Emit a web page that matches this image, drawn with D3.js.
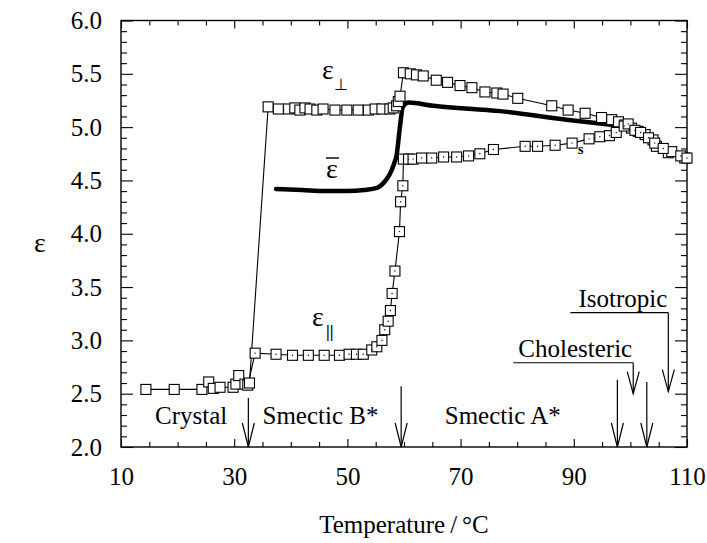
<!DOCTYPE html>
<html>
<head>
<meta charset="utf-8">
<script src="https://cdn.jsdelivr.net/npm/d3@7"></script>
<style>
  body { margin: 0; background: #fff; }
  svg { display: block; font-family: "Liberation Serif", "Times New Roman", serif; }
  .axis path { display: none; }
  .axis line { stroke: #000; stroke-width: 1.1; }
  .axis text { font-size: 25px; fill: #000; font-family: "Liberation Serif", serif; }
</style>
</head>
<body>
<svg width="707" height="543"></svg>
<script>
// crystal phase, shared start of both curves
const crystal = [[14.4,2.54],[19.4,2.54],[24.3,2.54],[25.5,2.61],[26.3,2.55],[27.5,2.56],[29.8,2.56],[30.3,2.59],[30.8,2.67],[31.9,2.59],[32.4,2.58]]

// eps perpendicular (temperature, eps)
const epsPerp = [[32.7,2.60],[36.0,5.19],[37.8,5.17],[39.6,5.17],[40.7,5.18],[41.6,5.16],[42.5,5.18],[43.4,5.17],[44.6,5.16],[45.7,5.17],[47.8,5.16],[49.9,5.16],[51.9,5.16],[53.7,5.16],[54.9,5.17],[56.1,5.17],[57.5,5.17],[58.1,5.18],[58.7,5.20],[59.0,5.24],[59.3,5.29],[59.9,5.51],[61.1,5.50],[62.2,5.49],[63.4,5.48],[65.7,5.44],[67.7,5.42],[69.9,5.39],[72.0,5.37],[74.3,5.33],[76.4,5.32],[77.5,5.31],[80.1,5.27],[86.1,5.20],[89.0,5.16],[92.0,5.13],[94.9,5.09],[96.7,5.07],[97.9,5.05],[99.0,5.02],[100.2,4.99],[101.4,4.96],[102.6,4.93],[104.0,4.88],[104.6,4.82],[106.7,4.76],[107.3,4.77],[109.6,4.71]]

// eps parallel
const epsPar = [[33.7,2.88],[37.4,2.87],[40.3,2.86],[43.1,2.86],[45.9,2.86],[48.6,2.86],[50.3,2.87],[51.6,2.87],[52.8,2.87],[54.3,2.91],[55.2,2.94],[56.1,3.00],[56.6,3.10],[57.2,3.18],[57.6,3.28],[57.9,3.44],[58.4,3.65],[59.2,4.02],[59.4,4.30],[59.8,4.45],[59.9,4.70],[60.8,4.70],[61.6,4.70],[63.1,4.71],[64.9,4.71],[67.0,4.72],[69.3,4.72],[71.4,4.73],[73.4,4.75],[75.8,4.79],[81.4,4.82],[83.6,4.82],[86.7,4.83],[89.7,4.85],[92.7,4.89],[94.6,4.91],[96.3,4.92],[97.5,4.95],[98.9,5.01],[99.6,5.03],[100.8,4.97],[101.8,4.95],[103.2,4.90],[104.3,4.85],[105.8,4.80],[108.9,4.73],[110.0,4.71]]

// mean eps (thick line)
const epsMean = [[37.4,4.42],[42.0,4.41],[46.0,4.40],[49.9,4.40],[53.0,4.41],[55.2,4.43],[56.6,4.49],[57.5,4.56],[58.2,4.65],[58.7,4.74],[59.3,5.01],[59.8,5.19],[60.8,5.23],[65.2,5.20],[77.0,5.15],[88.7,5.07],[97.0,5.02]]

// phase labels and transition arrows
const phaseNames = ["Crystal", "Smectic B*", "Smectic A*"]
const phaseLabelT = [16.0, 35.0, 67.2]
const transT = [32.5, 59.5, 97.7, 102.9]
const transTop = [2.46, 2.57, 2.63, 2.61]
const calloutNames = ["Cholesteric", "Isotropic"]
const calloutT = [100.5, 106.7]
const calloutLine = [2.79, 3.26]
const calloutTip = [2.50, 2.52]

const xTicks = [10, 30, 50, 70, 90, 110]
const yTicks = [2.0, 2.5, 3.0, 3.5, 4.0, 4.5, 5.0, 5.5, 6.0]

const svg = d3.select("svg")
const x = d3.scaleLinear().domain([10, 110]).range([121, 687])
const y = d3.scaleLinear().domain([2, 6]).range([447, 20.5])

const xMinor = d3.range(10, 110.1, 5).filter(v => !xTicks.includes(v))
const yMinor = d3.range(20, 61).map(v => v / 10).filter(v => !yTicks.some(t => Math.abs(t - v) < 1e-6))

// axes, ticks inward on all four sides
svg.append("g").attr("class", "axis").attr("transform", `translate(0,${y(2)})`)
  .call(d3.axisBottom(x).tickValues(xTicks).tickFormat(d3.format("d")).tickSizeInner(-8).tickPadding(20))
svg.append("g").attr("class", "axis").attr("transform", `translate(0,${y(2)})`)
  .call(d3.axisBottom(x).tickValues(xMinor).tickFormat("").tickSizeInner(-5))
svg.append("g").attr("class", "axis").attr("transform", `translate(0,${y(6)})`)
  .call(d3.axisTop(x).tickValues(xTicks).tickFormat("").tickSizeInner(-8))
svg.append("g").attr("class", "axis").attr("transform", `translate(0,${y(6)})`)
  .call(d3.axisTop(x).tickValues(xMinor).tickFormat("").tickSizeInner(-5))

svg.append("g").attr("class", "axis").attr("transform", `translate(${x(10)},0)`)
  .call(d3.axisLeft(y).tickValues(yTicks).tickFormat(d3.format(".1f")).tickSizeInner(-12).tickPadding(19))
svg.append("g").attr("class", "axis").attr("transform", `translate(${x(10)},0)`)
  .call(d3.axisLeft(y).tickValues(yMinor).tickFormat("").tickSizeInner(-6))
svg.append("g").attr("class", "axis").attr("transform", `translate(${x(110)},0)`)
  .call(d3.axisRight(y).tickValues(yTicks).tickFormat("").tickSizeInner(-12))
svg.append("g").attr("class", "axis").attr("transform", `translate(${x(110)},0)`)
  .call(d3.axisRight(y).tickValues(yMinor).tickFormat("").tickSizeInner(-6))

svg.append("rect")
  .attr("x", x(10)).attr("y", y(6))
  .attr("width", x(110) - x(10)).attr("height", y(2) - y(6))
  .attr("fill", "none").attr("stroke", "#000").attr("stroke-width", 1.4)

// axis titles
svg.append("text").attr("x", (x(10) + x(110)) / 2).attr("y", 533)
  .attr("text-anchor", "middle").attr("font-size", 25)
  .text("Temperature\u2009/\u2009°C")
svg.append("text").attr("x", 40).attr("y", 252)
  .attr("text-anchor", "middle").attr("font-size", 28)
  .text("ε")

const line = d3.line().x(d => x(d[0])).y(d => y(d[1]))

svg.append("path").datum(crystal.slice(-1).concat(epsPerp))
  .attr("d", line).attr("fill", "none").attr("stroke", "#000").attr("stroke-width", 1.1)
svg.append("path").datum(crystal.concat(epsPar))
  .attr("d", line).attr("fill", "none").attr("stroke", "#000").attr("stroke-width", 1.1)

svg.append("path").datum(epsMean)
  .attr("d", line.curve(d3.curveMonotoneX))
  .attr("fill", "none").attr("stroke", "#000").attr("stroke-width", 4.5)
  .attr("stroke-linecap", "round")

const sq = 10
const drawSquares = (data, dot) => {
  const g = svg.append("g")
  g.selectAll("rect").data(data).join("rect")
    .attr("x", d => x(d[0]) - sq / 2).attr("y", d => y(d[1]) - sq / 2)
    .attr("width", sq).attr("height", sq)
    .attr("fill", "#fff").attr("stroke", "#000").attr("stroke-width", 1.1)
  if (dot) g.selectAll("circle").data(data).join("circle")
    .attr("cx", d => x(d[0])).attr("cy", d => y(d[1])).attr("r", 0.7).attr("fill", "#000")
}
drawSquares(crystal, false)
drawSquares(epsPerp, false)
drawSquares(epsPar, true)

// curve labels
const lab = svg.append("g").attr("font-size", 28)
lab.append("text").attr("x", 322).attr("y", 79).text("ε")
lab.append("text").attr("x", 334).attr("y", 90).attr("font-size", 16).text("⊥")
lab.append("text").attr("x", 326).attr("y", 178).text("ε")
lab.append("line").attr("x1", 326).attr("x2", 339).attr("y1", 158).attr("y2", 158)
  .attr("stroke", "#000").attr("stroke-width", 1.4)
lab.append("text").attr("x", 312).attr("y", 326).text("ε")
lab.append("text").attr("x", 326).attr("y", 337).attr("font-size", 17).attr("font-weight", "bold").text("||")
lab.append("text").attr("x", 578).attr("y", 154).attr("font-size", 14).attr("font-weight", "bold").text("s")

// phase labels
svg.append("g").selectAll("text").data(phaseNames).join("text")
  .attr("x", (d, i) => x(phaseLabelT[i])).attr("y", 424)
  .attr("font-size", 25).text(d => d)

const arrow = (xp, y0, y1, hw, hh) => {
  const g = svg.append("g").attr("stroke", "#000").attr("fill", "none").attr("stroke-width", 1.2)
  g.append("line").attr("x1", xp).attr("x2", xp).attr("y1", y0).attr("y2", y1)
  g.append("path").attr("d", `M${xp - hw},${y1 - hh}L${xp},${y1}L${xp + hw},${y1 - hh}`)
}
transT.forEach((t, i) => arrow(x(t), y(transTop[i]), y(2), 6, 24))

calloutNames.forEach((name, i) => {
  const xp = x(calloutT[i])
  const yl = y(calloutLine[i])
  svg.append("text").attr("x", xp - 1).attr("y", yl - 6)
    .attr("text-anchor", "end").attr("font-size", 25).text(name)
  svg.append("line").attr("x1", xp - 120 + (i ? 22 : 0)).attr("x2", xp)
    .attr("y1", yl).attr("y2", yl).attr("stroke", "#000").attr("stroke-width", 1.2)
  arrow(xp, yl, y(calloutTip[i]), 6, 22)
})
</script>
</body>
</html>
